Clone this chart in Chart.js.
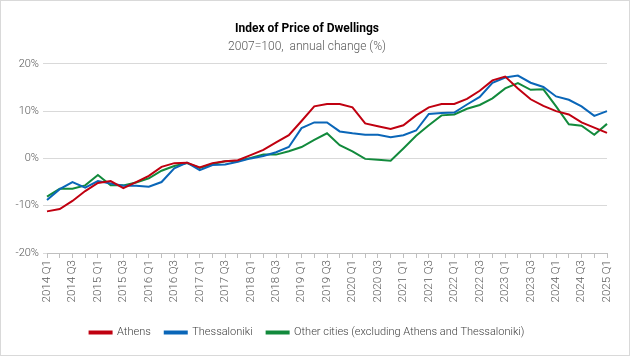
<!DOCTYPE html>
<html>
<head>
<meta charset="utf-8">
<script src="https://cdn.jsdelivr.net/npm/chart.js@4.4.1/dist/chart.umd.min.js"></script>
<style>
  html, body { margin: 0; padding: 0; background: #fff; }
  #wrap { width: 628px; height: 354px; border: 1px solid #d9d9d9; background: #fff; }
  canvas { display: block; }
</style>
</head>
<body>
<div id="wrap"><canvas id="c" width="628" height="354"></canvas></div>
<script>
const quarters = [];
for (let y = 2014; y <= 2025; y++) {
  for (let q = 1; q <= 4; q++) {
    if (y === 2025 && q > 1) break;
    quarters.push(y + ' Q' + q);
  }
}
const athens = [-11.2, -10.7, -9.0, -6.9, -5.2, -4.8, -6.3, -5.0, -3.7, -1.8, -1.0, -0.9, -1.9, -1.0, -0.6, -0.4,
  0.7, 1.8, 3.4, 4.9, 7.9, 11.0, 11.5, 11.5, 10.8, 7.4, 6.8, 6.2, 7.0, 9.1, 10.8, 11.5, 11.5, 12.6, 14.3, 16.5,
  17.3, 14.8, 12.5, 11.1, 10.0, 9.3, 7.6, 6.5, 5.4];
const thessaloniki = [-8.8, -6.5, -5.0, -6.2, -4.8, -5.3, -5.8, -5.8, -6.0, -5.0, -2.1, -0.9, -2.5, -1.4, -1.3, -0.7,
  0.0, 0.5, 1.3, 2.4, 6.4, 7.6, 7.6, 5.7, 5.3, 5.0, 5.0, 4.5, 4.9, 5.9, 9.4, 9.6, 9.7, 11.4, 13.0, 16.0,
  17.1, 17.5, 16.0, 15.1, 13.1, 12.4, 11.0, 9.0, 10.0];
const otherCities = [-8.1, -6.4, -6.4, -5.7, -3.5, -5.7, -5.7, -5.1, -4.2, -2.6, -1.6, -1.0, -2.0, -1.2, -0.6, -0.5,
  0.1, 0.8, 0.8, 1.5, 2.4, 3.9, 5.3, 2.8, 1.5, -0.1, -0.3, -0.5, 2.1, 4.8, 7.0, 9.1, 9.3, 10.5, 11.3, 12.7,
  14.8, 15.9, 14.5, 14.6, 11.0, 7.2, 6.9, 5.0, 7.3];
const seriesNames = ['Athens', 'Thessaloniki', 'Other cities (excluding Athens and Thessaloniki)'];
const yTicks = [-20, -10, 0, 10, 20];

const FONT = "'Roboto', sans-serif";
const colors = ['#C00010', '#0A66B8', '#128A3C'];
const series = [athens, thessaloniki, otherCities];

new Chart(document.getElementById('c'), {
  type: 'line',
  data: {
    labels: quarters,
    datasets: series.map((d, i) => ({
      label: seriesNames[i],
      data: d,
      borderColor: colors[i],
      backgroundColor: colors[i],
      borderWidth: 2,
      pointRadius: 0,
      tension: 0,
      fill: false
    }))
  },
  options: {
    responsive: false,
    animation: false,
    layout: { padding: { left: 6, right: 22, top: 21, bottom: 7 } },
    plugins: {
      title: {
        display: true,
        text: 'Index of Price of Dwellings',
        color: '#000',
        font: { family: FONT, size: 12, weight: 'bold' },
        padding: { top: 0, bottom: 3 }
      },
      subtitle: {
        display: true,
        text: '2007=100,  annual change (%)',
        color: '#595959',
        font: { family: FONT, size: 12, weight: 300 },
        padding: { top: 0, bottom: 10 }
      },
      legend: {
        position: 'bottom',
        labels: {
          color: '#404040',
          font: { family: FONT, size: 11, weight: 300 },
          boxWidth: 22,
          boxHeight: 2,
          padding: 14
        }
      },
      tooltip: { enabled: false }
    },
    scales: {
      x: {
        offset: false,
        afterFit: function (scale) { scale.height = 60; },
        grid: { display: true, drawOnChartArea: false, drawTicks: true, tickLength: 5, color: '#bfbfbf' },
        border: { display: true, color: '#bfbfbf' },
        ticks: {
          autoSkip: false,
          maxRotation: 90,
          minRotation: 90,
          color: '#595959',
          font: { family: FONT, size: 11.5, weight: 300 },
          padding: 2,
          callback: function (v, i) { return i % 2 === 0 ? quarters[i] : ''; }
        }
      },
      y: {
        min: -20,
        max: 20,
        afterBuildTicks: function (scale) { scale.ticks = yTicks.map(v => ({ value: v })); },
        afterFit: function (scale) { scale.width = 40; },
        grid: { color: '#d9d9d9', drawTicks: true, tickLength: 4 },
        border: { display: false },
        ticks: {
          color: '#595959',
          font: { family: FONT, size: 11, weight: 300 },
          padding: 4,
          callback: function (v) { return v + '%'; }
        }
      }
    }
  }
});
</script>
</body>
</html>
